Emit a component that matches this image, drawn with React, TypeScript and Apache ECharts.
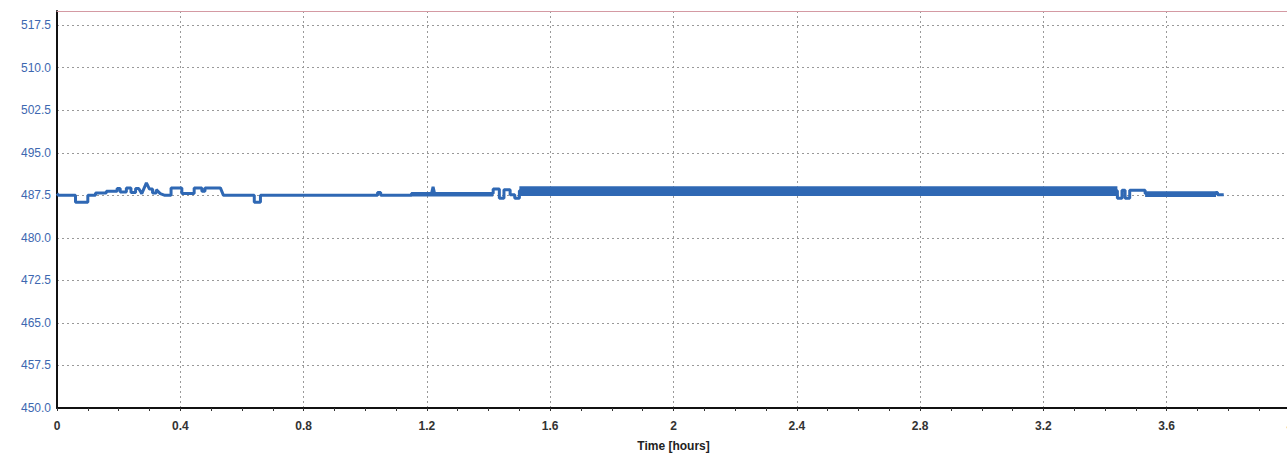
import React, { useEffect, useRef } from "react";
import * as echarts from "echarts";

// Main voltage trace (time in hours, value in V)
const timeH = [
  0.0, 0.005, 0.06, 0.06, 0.1, 0.1, 0.125, 0.125, 0.16, 0.16, 0.195, 0.195, 0.205, 0.205,
  0.225, 0.225, 0.24, 0.24, 0.255, 0.255, 0.265, 0.275, 0.29, 0.3, 0.31, 0.31, 0.322, 0.322,
  0.335, 0.35, 0.37, 0.37, 0.405, 0.405, 0.445, 0.445, 0.47, 0.47, 0.48, 0.48, 0.53, 0.54,
  0.64, 0.64, 0.66, 0.66, 1.04, 1.04, 1.05, 1.05, 1.15, 1.15, 1.215, 1.22, 1.225, 1.415,
  1.415, 1.435, 1.435, 1.45, 1.45, 1.47, 1.47, 1.485, 1.485, 1.5, 1.5, 3.44, 3.44, 3.455,
  3.455, 3.465, 3.465, 3.48, 3.48, 3.53, 3.53, 3.76, 3.76, 3.765, 3.765, 3.785,
];
const voltage = [
  487.8, 487.5, 487.5, 486.3, 486.3, 487.5, 487.5, 487.9, 487.9, 488.2, 488.2, 488.7, 488.7, 488.1,
  488.1, 488.8, 488.8, 488.0, 488.0, 488.7, 488.7, 487.8, 489.7, 488.6, 488.6, 487.9, 487.9, 488.5,
  487.8, 487.5, 487.5, 488.8, 488.8, 487.8, 487.8, 488.8, 488.8, 488.2, 488.2, 488.8, 488.8, 487.5,
  487.5, 486.3, 486.3, 487.5, 487.5, 488.0, 488.0, 487.5, 487.5, 487.8, 487.8, 489.0, 487.8, 487.8,
  488.6, 488.6, 487.0, 487.0, 488.5, 488.5, 487.6, 487.6, 487.0, 487.0, 488.3, 488.3, 487.0, 487.0,
  488.4, 488.4, 487.0, 487.0, 488.4, 488.4, 487.8, 487.8, 488.0, 488.0, 487.6, 487.6,
];

// Rapid-fluctuation bands: start time, end time, low value, high value
const bandStart = [1.15, 1.5, 3.53];
const bandEnd = [1.415, 3.44, 3.76];
const bandLow = [487.3, 487.4, 487.2];
const bandHigh = [488.1, 489.1, 488.2];

const yTicks = { min: 450, max: 520, interval: 7.5 };
const xTicks = { min: 0, max: 4, interval: 0.4 };

export default function App() {
  const ref = useRef<HTMLDivElement>(null);
  useEffect(() => {
    document.body.style.margin = "0";
    document.body.style.overflow = "hidden";
    const chart = echarts.init(ref.current!, null, { renderer: "svg" });
    const lineColor = "#2f68b4";
    const trace = timeH.map((t, i) => [t, voltage[i]]);
    const bands = bandStart.map((s, i) => [s, bandEnd[i], bandLow[i], bandHigh[i]]);
    chart.setOption({
      animation: false,
      grid: { left: 57, right: 20, top: 11, bottom: 45, containLabel: false },
      xAxis: [
        {
          type: "value",
          min: xTicks.min,
          max: xTicks.max,
          interval: xTicks.interval,
          name: "Time [hours]",
          nameLocation: "middle",
          nameGap: 32,
          nameTextStyle: { fontFamily: "Liberation Sans", fontWeight: "bold", fontSize: 12, color: "#222" },
          axisLine: { show: true, onZero: false, lineStyle: { color: "#111", width: 2 } },
          axisTick: { show: true, length: 3, lineStyle: { color: "#333" } },
          minorTick: { show: true, splitNumber: 4, length: 3, lineStyle: { color: "#333" } },
          axisLabel: {
            fontFamily: "Liberation Sans",
            fontWeight: "bold",
            fontSize: 12,
            color: "#333",
            margin: 12,
          },
          splitLine: { show: true, lineStyle: { color: "#999", type: [2, 3], width: 1 } },
          minorSplitLine: { show: false },
        },
        {
          type: "value",
          position: "top",
          min: xTicks.min,
          max: xTicks.max,
          axisLine: { show: true, lineStyle: { color: "#d49aa3", width: 1 } },
          axisTick: { show: false },
          axisLabel: { show: false },
          splitLine: { show: false },
        },
      ],
      yAxis: {
        type: "value",
        min: yTicks.min,
        max: yTicks.max,
        interval: yTicks.interval,
        axisLine: { show: true, onZero: false, lineStyle: { color: "#111", width: 2 } },
        axisTick: { show: false },
        axisLabel: {
          fontFamily: "Liberation Sans",
          fontSize: 12,
          color: "#3d67b0",
          margin: 6,
          showMaxLabel: false,
          formatter: (v: number) => v.toFixed(1),
        },
        splitLine: { show: true, lineStyle: { color: "#999", type: [2, 3], width: 1 } },
      },
      series: [
        {
          type: "custom",
          name: "band",
          xAxisIndex: 0,
          encode: { x: [0, 1], y: [2, 3] },
          data: bands,
          renderItem: (params: any, api: any) => {
            const p1 = api.coord([api.value(0), api.value(3)]);
            const p2 = api.coord([api.value(1), api.value(2)]);
            return {
              type: "rect",
              shape: { x: p1[0], y: p1[1], width: p2[0] - p1[0], height: p2[1] - p1[1] },
              style: { fill: lineColor },
            };
          },
          z: 3,
        },
        {
          type: "line",
          name: "Voltage",
          xAxisIndex: 0,
          data: trace,
          showSymbol: false,
          symbol: "none",
          lineStyle: { color: lineColor, width: 3 },
          z: 4,
        },
      ],
    });
    return () => chart.dispose();
  }, []);
  return (
    <div
      ref={ref}
      style={{ position: "fixed", left: 0, top: 0, width: 1310, height: 457, background: "#fff" }}
    />
  );
}
